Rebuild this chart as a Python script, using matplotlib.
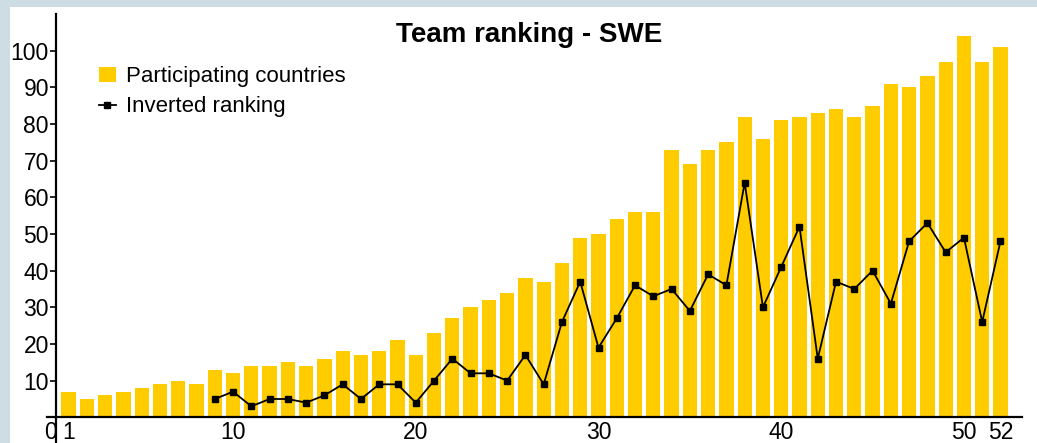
import matplotlib
matplotlib.use("Agg")
import matplotlib.pyplot as plt
from matplotlib.patches import Rectangle
from matplotlib.lines import Line2D
import numpy as np

# data
weeks = list(range(1, 53))
countries = [7, 5, 6, 7, 8, 9, 10, 9, 13, 12, 14, 14, 15, 14, 16, 18, 17, 18, 21, 17,
             23, 27, 30, 32, 34, 38, 37, 42, 49, 50, 54, 56, 56, 73, 69, 73, 75, 82, 76, 81,
             82, 83, 84, 82, 85, 91, 90, 93, 97, 104, 97, 101]
rank_weeks = list(range(9, 53))
inv_rank = [5, 7, 3, 5, 5, 4, 6, 9, 5, 9, 9, 4, 10, 16, 12, 12, 10, 17, 9, 26,
            37, 19, 27, 36, 33, 35, 29, 39, 36, 64, 30, 41, 52, 16, 37, 35, 40, 31, 48, 53,
            45, 49, 26, 48]
xticks = [0, 1, 10, 20, 30, 40, 50, 52]
yticks = [10, 20, 30, 40, 50, 60, 70, 80, 90, 100]

plt.rcParams['font.family'] = ['Liberation Sans', 'DejaVu Sans']

W, H = 1037, 443
fig = plt.figure(figsize=(W / 100, H / 100), dpi=100)
fig.patch.set_facecolor('#cddde3')
# white panel
fig.patches.append(Rectangle((10 / W, 0), 1 - 10 / W, 1 - 7 / H, transform=fig.transFigure,
                             facecolor='white', edgecolor='none', zorder=-5))

ax = fig.add_axes([46.7 / W, 0, 975.7 / W, 429.1 / H])
ax.set_facecolor('none')

ax.bar(weeks, countries, width=0.78, color='#ffcc00', zorder=2)
ax.plot(rank_weeks, inv_rank, color='black', lw=1.3, marker='s', ms=4, zorder=3)

ax.set_xlim(-0.2, 53.2)
ax.set_ylim(-7, 110)

for s in ['top', 'right']:
    ax.spines[s].set_visible(False)
ax.spines['left'].set_position(('data', 0.3))
ax.spines['bottom'].set_position(('data', 0))
ax.spines['left'].set_linewidth(1.6)
ax.spines['bottom'].set_linewidth(1.6)

ax.set_xticks(xticks)
ax.set_xticklabels([str(t) for t in xticks])
ax.set_yticks(yticks)
ax.tick_params(axis='x', length=0, labelsize=16.5, pad=3)
ax.tick_params(axis='y', length=4, width=1.2, labelsize=16.5, pad=1)

fig.text(529 / W, 1 - 35 / H, 'Team ranking - SWE', ha='center', va='center',
         fontsize=20, fontweight='bold')

handles = [Rectangle((0, 0), 1, 1, facecolor='#ffcc00', edgecolor='none'),
           Line2D([], [], color='black', lw=1.3, marker='s', ms=4)]
ax.legend(handles, ['Participating countries', 'Inverted ranking'],
          loc='upper left', bbox_to_anchor=(99 / W, 1 - 66 / H), bbox_transform=fig.transFigure,
          frameon=False, fontsize=16, handlelength=0.75, handleheight=0.65, handletextpad=0.45,
          labelspacing=0.42, borderpad=0, borderaxespad=0)

fig.savefig('out.png', dpi=100)
